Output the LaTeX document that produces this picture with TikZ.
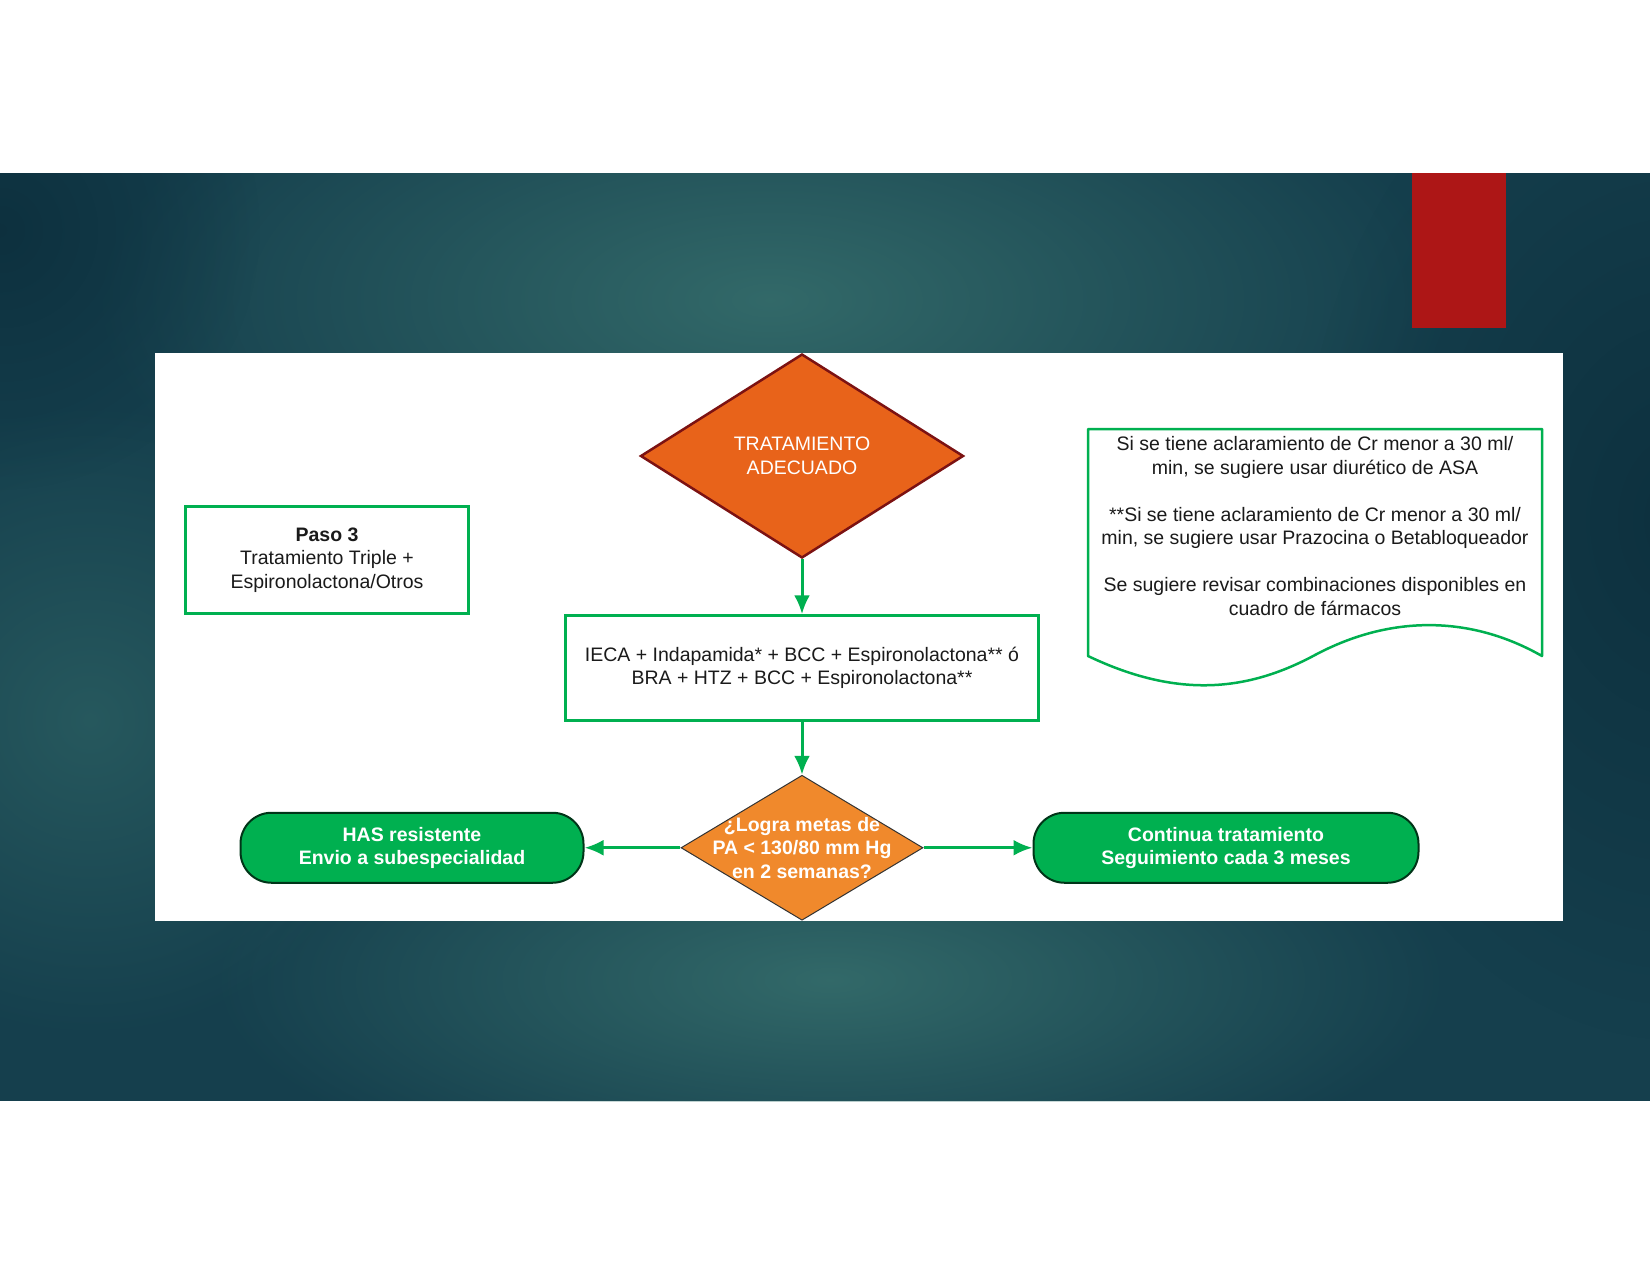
\documentclass[tikz,border=0pt]{standalone}
\usepackage{fontspec}
\setmainfont{Liberation Sans}
\usetikzlibrary{arrows.meta}
\usetikzlibrary{positioning}
\usetikzlibrary{shapes.geometric}
\usetikzlibrary{fadings}

\definecolor{verde}{HTML}{00B050}
\definecolor{naranja}{HTML}{E8631A}
\definecolor{naranjaclaro}{HTML}{F0892C}
\definecolor{vino}{HTML}{7C1212}
\definecolor{rojo}{HTML}{AD1616}
\definecolor{fondo}{HTML}{153F4D}
\definecolor{fondoclaro}{HTML}{3A7470}
\definecolor{fondooscuro}{HTML}{0B2D3B}
\definecolor{texto}{HTML}{1A1A1A}

\newcommand{\tamletra}{\fontsize{19.5}{23.5}\selectfont}
\tikzfading[name=brillo, inner color=transparent!20, outer color=transparent!100]

\tikzstyle{inicio} = [diamond, minimum width=323pt, minimum height=204pt, align=center, draw=vino, line width=2.5pt, fill=naranja, text=white]
\tikzstyle{paso} = [rectangle, minimum width=283pt, minimum height=107pt, align=center, draw=verde, line width=2.5pt, fill=white, text=texto]
\tikzstyle{combo} = [rectangle, minimum width=473pt, minimum height=105pt, align=center, draw=verde, line width=2.5pt, fill=white, text=texto]
\tikzstyle{decision} = [diamond, minimum width=242pt, minimum height=145pt, draw=black!80, line width=1pt, fill=naranjaclaro]
\tikzstyle{metastexto} = [align=center, text=white, font=\tamletra\bfseries, inner sep=0pt]
\tikzstyle{terminal} = [rectangle, rounded corners=31pt, minimum height=70pt, align=center, draw=black!70!verde, line width=2pt, fill=verde, text=white, font=\tamletra\bfseries]
\tikzstyle{nota} = [rectangle, align=center, text=texto]
\tikzstyle{notaborde} = [draw=verde, line width=2.5pt, line join=round]
\tikzstyle{arrow} = [-{Latex[length=19pt,width=16pt]}, draw=verde, line width=3pt]

\begin{document}
\begin{tikzpicture}[x=1pt, y=-1pt, node distance=55pt, font=\tamletra]
  \useasboundingbox (0,0) rectangle (1650,1275);

  % background band, panel and red tab
  \fill [white] (0,0) rectangle (1650,1275);
  \begin{scope}
    \clip (0,173) rectangle (1650,1101);
    \fill [fondo] (0,173) rectangle (1650,1101);
    \fill [fondoclaro, path fading=brillo] (770,300) ellipse [x radius=680pt, y radius=300pt];
    \fill [fondoclaro, path fading=brillo] (830,980) ellipse [x radius=620pt, y radius=220pt];
    \fill [fondoclaro!60!fondo, path fading=brillo] (90,720) circle [radius=320pt];
    \fill [fondooscuro, path fading=brillo] (1680,520) ellipse [x radius=380pt, y radius=520pt];
    \fill [fondooscuro, path fading=brillo] (0,230) circle [radius=260pt];
  \end{scope}
  \fill [rojo] (1412,173) rectangle (1506,328);
  \fill [white] (155,353) rectangle (1563,921);

  % We place the blocks
  \node (inicio) [inicio] at (802,456) {TRATAMIENTO\\ADECUADO};
  \node (combo) [combo, below=55pt of inicio] {IECA + Indapamida* + BCC + Espironolactona** ó\\BRA + HTZ + BCC + Espironolactona**};
  \node (metas) [decision, below=53pt of combo] {};
  \node (metastxt) [metastexto] at (metas) {¿Logra metas de\\PA < 130/80 mm Hg\\en 2 semanas?};
  \node (resistente) [terminal, minimum width=343pt, left=96pt of metas] {HAS resistente\\Envio a subespecialidad};
  \node (continua) [terminal, minimum width=385pt, right=109pt of metas] {Continua tratamiento\\Seguimiento cada 3 meses};
  \node (paso) [paso] at (327,560) {\textbf{Paso 3}\\Tratamiento Triple +\\Espironolactona/Otros};

  % note with wavy bottom
  \draw [notaborde] (1088,429) -- (1542,429) -- (1542,656)
    .. controls (1470,615) and (1390,615) .. (1315,655)
    .. controls (1250,690) and (1180,700) .. (1088,656) -- cycle;
  \node (nota) [nota] at (1315,526) {Si se tiene aclaramiento de Cr menor a 30 ml/\\min, se sugiere usar diurético de ASA\\[23.5pt]**Si se tiene aclaramiento de Cr menor a 30 ml/\\min, se sugiere usar Prazocina o Betabloqueador\\[23.5pt]Se sugiere revisar combinaciones disponibles en\\cuadro de fármacos};

  % draw connections between nodes
  \draw [arrow] (inicio) -- (combo);
  \draw [arrow] (combo) -- (metas);
  \draw [arrow] (metas) -- (resistente);
  \draw [arrow] (metas) -- (continua);

\end{tikzpicture}
\end{document}
